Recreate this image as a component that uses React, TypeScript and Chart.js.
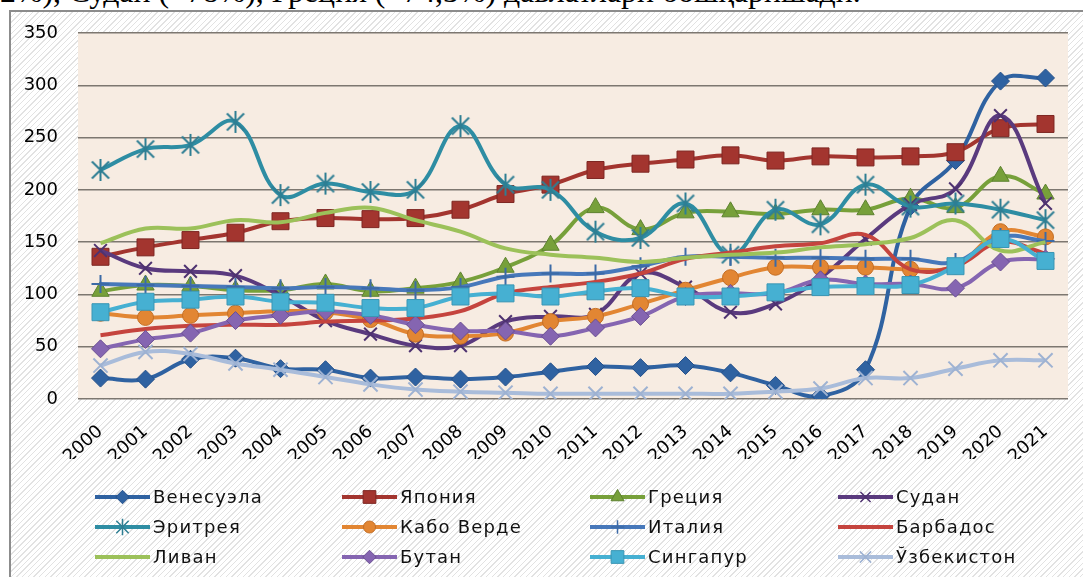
import React, { useEffect, useRef } from "react";
import { Chart, registerables } from "chart.js";

Chart.register(...registerables);

const years = ["2000","2001","2002","2003","2004","2005","2006","2007","2008","2009","2010","2011","2012","2013","2014","2015","2016","2017","2018","2019","2020","2021"];

const venezuela = [20, 19, 38, 39, 29, 28, 20, 21, 19, 21, 26, 31, 30, 32, 25, 13, 3, 28, 184, 228, 304, 307];
const japan = [136, 145, 152, 159, 170, 173, 172, 173, 181, 196, 205, 219, 225, 229, 233, 228, 232, 231, 232, 236, 259, 263];
const greece = [103, 109, 108, 104, 104, 110, 103, 106, 112, 126, 147, 183, 162, 178, 179, 177, 181, 181, 192, 183, 213, 196];
const sudan = [142, 125, 122, 118, 99, 75, 62, 51, 51, 74, 79, 81, 120, 107, 83, 91, 116, 153, 186, 201, 271, 187];
const eritrea = [219, 239, 243, 265, 195, 206, 198, 200, 261, 205, 200, 160, 154, 187, 138, 181, 167, 205, 184, 187, 181, 171];
const caboVerde = [82, 78, 80, 82, 84, 83, 76, 62, 60, 63, 74, 79, 91, 104, 116, 126, 126, 126, 124, 127, 160, 155];
const italy = [110, 109, 108, 107, 106, 107, 106, 104, 107, 117, 120, 120, 127, 136, 136, 135, 135, 134, 134, 131, 155, 151];
const barbados = [61, 67, 70, 71, 71, 74, 75, 77, 84, 101, 107, 112, 120, 134, 140, 146, 149, 157, 124, 127, 150, 139];
const lebanon = [149, 163, 163, 171, 169, 178, 183, 171, 160, 144, 138, 135, 131, 135, 138, 140, 145, 148, 154, 171, 142, 150];
const bhutan = [48, 57, 63, 75, 80, 84, 80, 71, 65, 65, 60, 68, 79, 98, 101, 101, 114, 110, 110, 106, 131, 134];
const singapore = [83, 93, 95, 98, 93, 92, 87, 87, 98, 101, 98, 103, 106, 98, 98, 102, 107, 108, 109, 127, 153, 132];
const uzbekistan = [32, 45, 43, 34, 28, 21, 14, 9, 7, 6, 5, 5, 5, 5, 5, 7, 10, 20, 20, 29, 37, 37];

const seriesNames = ["Венесуэла","Япония","Греция","Судан","Эритрея","Кабо Верде","Италия","Барбадос","Ливан","Бутан","Сингапур","Ўзбекистон"];
const seriesData = [venezuela, japan, greece, sudan, eritrea, caboVerde, italy, barbados, lebanon, bhutan, singapore, uzbekistan];
const lineColors = ["#2F62A1","#A3352F","#77A03A","#5A3A7E","#2E8DA3","#E28633","#4778BA","#C5443E","#9CC15A","#8565B1","#46B0D2","#A9BCDA"];
const markerFill = ["#2F62A1","#A3352F","#77A03A","#4E3270","#2E7E93","#E28633","#3C6AA6","#C5443E","#9CC15A","#8565B1","#46B0D2","#9EB2D2"];
const markerStroke = ["#24508A","#7E2723","#5E8230","#4E3270","#2E7E93","#C46E24","#3C6AA6","#C5443E","#9CC15A","#6A4F93","#3A96B4","#9EB2D2"];
const markerStyle = ["rectRot","rect","triangle","crossRot","asterisk","circle","cross","none","none","rectRot","rect","crossRot"];
const markerRadius = [9, 12, 10, 9, 11, 8, 9, 0, 0, 9, 12, 10];

function makeAsterisk(color: string, r: number) {
  const c = document.createElement("canvas");
  const s = r * 2 + 4;
  c.width = s; c.height = s;
  const g = c.getContext("2d")!;
  g.strokeStyle = color;
  g.lineWidth = 2;
  const m = s / 2;
  g.beginPath();
  g.moveTo(m, m - r); g.lineTo(m, m + r);
  const d = r * 0.78;
  g.moveTo(m - d, m - d); g.lineTo(m + d, m + d);
  g.moveTo(m - d, m + d); g.lineTo(m + d, m - d);
  g.stroke();
  return c;
}

function drawMarker(ctx: CanvasRenderingContext2D, style: string, x: number, y: number, r: number, fill: string, stroke: string) {
  if (style === "none") return;
  ctx.save();
  ctx.fillStyle = fill;
  ctx.strokeStyle = stroke;
  ctx.lineWidth = 1;
  ctx.beginPath();
  if (style === "rectRot") {
    ctx.moveTo(x, y - r); ctx.lineTo(x + r, y); ctx.lineTo(x, y + r); ctx.lineTo(x - r, y); ctx.closePath();
    ctx.fill(); ctx.stroke();
  } else if (style === "rect") {
    const s = r * Math.SQRT1_2;
    ctx.rect(x - s, y - s, 2 * s, 2 * s);
    ctx.fill(); ctx.stroke();
  } else if (style === "triangle") {
    ctx.moveTo(x, y - r); ctx.lineTo(x + r * 0.866, y + r * 0.5); ctx.lineTo(x - r * 0.866, y + r * 0.5); ctx.closePath();
    ctx.fill(); ctx.stroke();
  } else if (style === "circle") {
    ctx.arc(x, y, r, 0, Math.PI * 2);
    ctx.fill(); ctx.stroke();
  } else if (style === "crossRot") {
    const d = r * 0.75;
    ctx.lineWidth = 1.5;
    ctx.moveTo(x - d, y - d); ctx.lineTo(x + d, y + d);
    ctx.moveTo(x - d, y + d); ctx.lineTo(x + d, y - d);
    ctx.stroke();
  } else if (style === "cross") {
    ctx.lineWidth = 1.5;
    ctx.moveTo(x, y - r); ctx.lineTo(x, y + r);
    ctx.moveTo(x - r, y); ctx.lineTo(x + r, y);
    ctx.stroke();
  } else if (style === "asterisk") {
    const d = r * 0.75;
    ctx.lineWidth = 1.5;
    ctx.moveTo(x, y - r); ctx.lineTo(x, y + r);
    ctx.moveTo(x - d, y - d); ctx.lineTo(x + d, y + d);
    ctx.moveTo(x - d, y + d); ctx.lineTo(x + d, y - d);
    ctx.stroke();
  }
  ctx.restore();
}

const FONT = "'DejaVu Sans', sans-serif";

export default function App() {
  const ref = useRef<HTMLCanvasElement>(null);
  useEffect(() => {
    const canvas = ref.current!;
    const datasets = seriesNames.map((name, i) => {
      const style = markerStyle[i];
      const ps: any = style === "asterisk" ? makeAsterisk(markerStroke[i], markerRadius[i]) : style === "none" ? false : style;
      return {
        label: name,
        data: seriesData[i],
        borderColor: lineColors[i],
        borderWidth: 4,
        tension: 0.4,
        fill: false,
        order: -i,
        pointStyle: ps,
        pointRadius: style === "none" ? 0 : markerRadius[i],
        pointBackgroundColor: markerFill[i],
        pointBorderColor: markerStroke[i],
        pointBorderWidth: style === "crossRot" || style === "cross" ? 2 : 1,
      };
    });

    const bgPlugin = {
      id: "plotBg",
      beforeDraw(chart: any) {
        const { ctx, chartArea: a } = chart;
        ctx.save();
        ctx.fillStyle = "#F7ECE2";
        ctx.fillRect(a.left, a.top, a.right - a.left, a.bottom - a.top);
        ctx.restore();
      },
    };

    const legendPlugin = {
      id: "gridLegend",
      afterDraw(chart: any) {
        const ctx: any = chart.ctx;
        const cols = [95, 342, 590, 838];
        const rows = [497, 527, 557];
        ctx.save();
        seriesNames.forEach((name, i) => {
          const x0 = cols[i % 4];
          const y = rows[Math.floor(i / 4)];
          ctx.strokeStyle = lineColors[i];
          ctx.lineWidth = 4;
          ctx.beginPath();
          ctx.moveTo(x0, y);
          ctx.lineTo(x0 + 55, y);
          ctx.stroke();
          drawMarker(ctx, markerStyle[i], x0 + 27.5, y, Math.max(0, markerRadius[i] * 0.75), markerFill[i], markerStroke[i]);
          ctx.fillStyle = "#111";
          ctx.font = "18px " + FONT;
          ctx.letterSpacing = "1.2px";
          ctx.textAlign = "left";
          ctx.textBaseline = "middle";
          ctx.fillText(name, x0 + 58, y + 1);
        });
        ctx.restore();
      },
    };

    const chart = new Chart(canvas, {
      type: "line",
      data: { labels: years, datasets: datasets as any },
      options: {
        animation: false,
        responsive: false,
        devicePixelRatio: 1,
        layout: { padding: { left: 0, right: 15, top: 33, bottom: 118 } },
        plugins: { legend: { display: false }, tooltip: { enabled: false } },
        scales: {
          x: {
            offset: true,
            grid: { display: false },
            border: { display: false },
            ticks: {
              minRotation: 42,
              maxRotation: 42,
              color: "#000",
              padding: 14,
              font: { family: FONT, size: 18 },
            },
            afterFit: (axis: any) => { axis.height = 60; },
          },
          y: {
            min: 0,
            max: 350,
            ticks: {
              stepSize: 50,
              color: "#000",
              padding: 20,
              font: { family: FONT, size: 18 },
            },
            grid: { color: "#7d7770", lineWidth: 1.5, drawTicks: false },
            border: { display: false },
            afterFit: (axis: any) => { axis.width = 78; },
          },
        },
      },
      plugins: [bgPlugin, legendPlugin],
    });
    return () => chart.destroy();
  }, []);

  return (
    <div style={{ position: "fixed", left: 0, top: 0, width: 1083, height: 577, overflow: "hidden", background: "#fff" }}>
      <div
        style={{
          position: "absolute", left: 0, top: -26, whiteSpace: "nowrap",
          fontFamily: "'Liberation Serif', 'Times New Roman', serif", fontSize: 31.8, color: "#000",
        }}
      >
        2%), Судан (+78%), Греция (+74,3%) давлатлари бошқаришади.
      </div>
      <div
        style={{
          position: "absolute", left: 9, top: 10, width: 1100, height: 600,
          border: "2px solid #8c8c8c",
          background: "repeating-linear-gradient(135deg, #ffffff 0px, #ffffff 3px, #e2e2e2 3px, #e2e2e2 4px)",
        }}
      />
      <canvas ref={ref} width={1083} height={577} style={{ position: "absolute", left: 0, top: 0 }} />
    </div>
  );
}
